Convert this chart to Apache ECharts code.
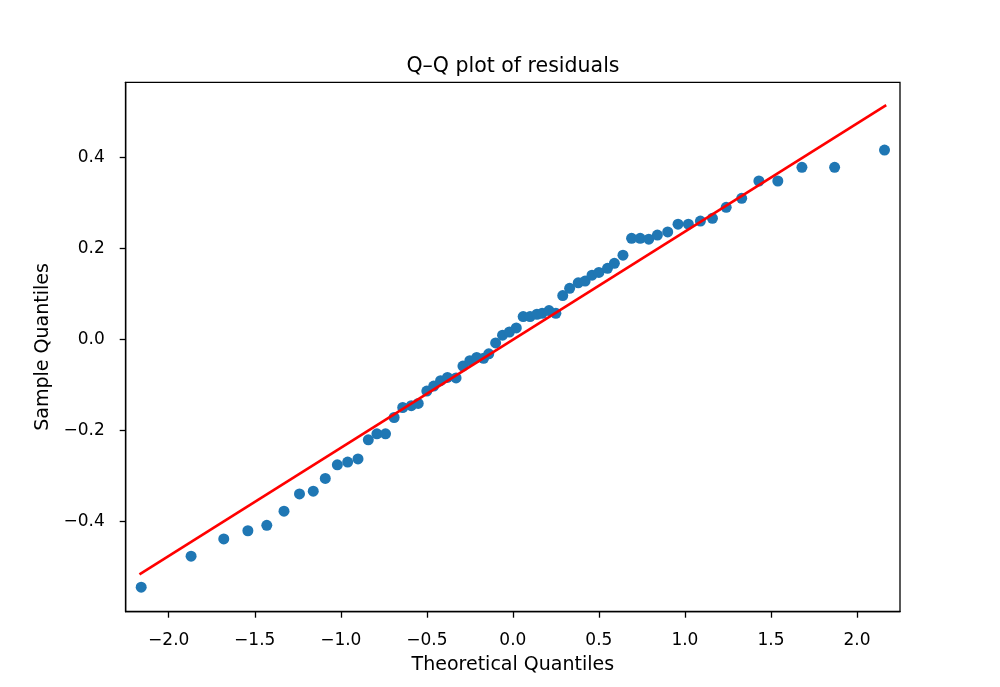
<!DOCTYPE html>
<html>
<head>
<meta charset="utf-8">
<script src="https://cdn.jsdelivr.net/npm/echarts@6/dist/echarts.min.js"></script>
<style>
html,body{margin:0;padding:0;background:#fff;}
#chart{width:1000px;height:687px;}
</style>
</head>
<body>
<div id="chart"></div>
<script>
const theoreticalQ = [-2.16,-1.87,-1.68,-1.54,-1.43,-1.33,-1.24,-1.16,-1.09,-1.02,-0.96,-0.90,-0.84,-0.79,-0.74,-0.69,-0.64,-0.59,-0.55,-0.50,-0.46,-0.42,-0.38,-0.33,-0.29,-0.25,-0.21,-0.17,-0.14,-0.10,-0.06,-0.02,
  0.02,0.06,0.10,0.14,0.17,0.21,0.25,0.29,0.33,0.38,0.42,0.46,0.50,0.55,0.59,0.64,0.69,0.74,0.79,0.84,0.90,0.96,1.02,1.09,1.16,1.24,1.33,1.43,1.54,1.68,1.87,2.16];
const sampleQ = [-0.545,-0.477,-0.439,-0.421,-0.409,-0.378,-0.340,-0.334,-0.306,-0.276,-0.270,-0.263,-0.221,-0.208,-0.208,-0.172,-0.150,-0.146,-0.141,-0.114,-0.103,-0.091,-0.084,-0.085,-0.059,-0.047,-0.040,-0.042,-0.032,-0.008,0.009,0.016,
  0.025,0.050,0.050,0.055,0.057,0.063,0.057,0.096,0.112,0.124,0.128,0.141,0.147,0.156,0.167,0.185,0.222,0.222,0.220,0.229,0.236,0.253,0.253,0.260,0.266,0.290,0.310,0.348,0.348,0.378,0.378,0.416];
const lineX = [-2.17, 2.17];
const lineY = [-0.517, 0.515];
const xTicks = [-2.0,-1.5,-1.0,-0.5,0.0,0.5,1.0,1.5,2.0];
const yTicks = [-0.4,-0.2,0.0,0.2,0.4];

const fmt = v => Number(v).toFixed(1).replace('-', '\u2212');
const font = 'DejaVu Sans';

const chart = echarts.init(document.getElementById('chart'), null, {renderer:'canvas'});
chart.setOption({
  animation: false,
  backgroundColor: '#ffffff',
  title: {
    text: 'Q\u2013Q plot of residuals',
    left: 513, top: 56, padding: 0, textAlign: 'center',
    textStyle: {fontFamily: font, fontSize: 20.5, fontWeight: 'normal', color: '#000'}
  },
  grid: {
    left: 125.7, right: 100, top: 82.3, bottom: 75.3,
    show: true, borderColor: '#000', borderWidth: 1.3, backgroundColor: 'transparent',
    containLabel: false, outerBoundsMode: 'none'
  },
  xAxis: {
    type: 'value', min: -2.25, max: 2.25,
    name: 'Theoretical Quantiles', nameLocation: 'middle', nameGap: 44,
    nameTextStyle: {fontFamily: font, fontSize: 19, color: '#000'},
    axisLine: {show: true, onZero: false, lineStyle: {color: '#000', width: 1.3}},
    axisTick: {show: true, inside: false, length: 6, lineStyle: {color: '#000', width: 1.3}, customValues: xTicks},
    axisLabel: {show: true, margin: 20, fontFamily: font, fontSize: 17, color: '#000', formatter: fmt, customValues: xTicks, showMinLabel: true, showMaxLabel: true},
    splitLine: {show: false}
  },
  yAxis: {
    type: 'value', min: -0.599, max: 0.565,
    name: 'Sample Quantiles', nameLocation: 'middle', nameGap: 64, nameRotate: 90,
    nameTextStyle: {fontFamily: font, fontSize: 19, color: '#000'},
    axisLine: {show: true, onZero: false, lineStyle: {color: '#000', width: 1.3}},
    axisTick: {show: true, inside: false, length: 6, lineStyle: {color: '#000', width: 1.3}, customValues: yTicks},
    axisLabel: {show: true, margin: 21, fontFamily: font, fontSize: 17, color: '#000', formatter: fmt, customValues: yTicks},
    splitLine: {show: false}
  },
  series: [
    {
      type: 'scatter',
      data: theoreticalQ.map((x, i) => [x, sampleQ[i]]),
      symbol: 'circle', symbolSize: 11,
      itemStyle: {color: '#1f77b4', opacity: 1},
      z: 2
    },
    {
      type: 'line',
      data: lineX.map((x, i) => [x, lineY[i]]),
      symbol: 'none',
      lineStyle: {color: '#ff0000', width: 2.6},
      z: 3
    }
  ]
});
</script>
</body>
</html>
